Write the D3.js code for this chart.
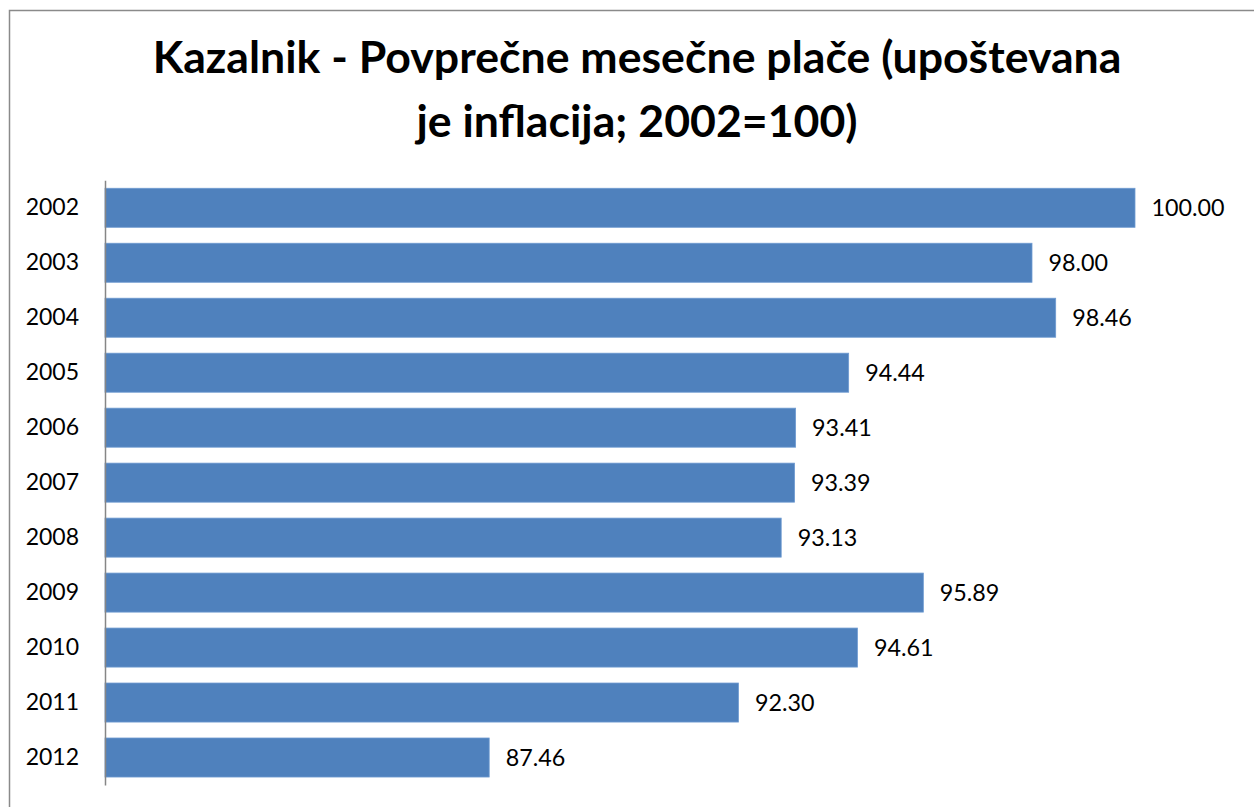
<!DOCTYPE html>
<html>
<head>
<meta charset="utf-8">
<script src="https://cdn.jsdelivr.net/npm/d3@7/dist/d3.min.js"></script>
<style>
  html, body { margin: 0; padding: 0; background: #ffffff; }
  svg { display: block; }
  text { font-family: Lato, "Open Sans", "Liberation Sans", sans-serif; fill: #000; }
</style>
</head>
<body>
<svg id="chart" width="1254" height="807"></svg>
<script>
// Indicator: average monthly wages, inflation-adjusted (2002 = 100)
const years = ["2002", "2003", "2004", "2005", "2006", "2007", "2008", "2009", "2010", "2011", "2012"];
const wageIndex = [100.00, 98.00, 98.46, 94.44, 93.41, 93.39, 93.13, 95.89, 94.61, 92.30, 87.46];
const titleLines = ["Kazalnik - Povprečne mesečne plače (upoštevana", "je inflacija; 2002=100)"];
const axisMin = 80, axisMax = 100;

const svg = d3.select("#chart");
const W = 1254, H = 807;

// chart area frame (extends past the right and bottom edges)
svg.append("rect")
  .attr("x", 9.5).attr("y", 10.5)
  .attr("width", W + 20).attr("height", H + 20)
  .attr("fill", "#ffffff")
  .attr("stroke", "#8a8a8a")
  .attr("stroke-width", 1.5);

// title, two centred lines, sized to the wanted line width
const title = svg.append("g");
const titleBaselines = [73, 137];
const t = title.selectAll("text").data(titleLines).join("text")
  .attr("x", 637)
  .attr("y", (d, i) => titleBaselines[i])
  .attr("text-anchor", "middle")
  .style("font-weight", "700")
  .style("font-size", "40px")
  .text(d => d);
const w0 = t.nodes()[0].getComputedTextLength();
const fs = 40 * 969 / w0;
t.style("font-size", fs.toFixed(2) + "px");

const x = d3.scaleLinear().domain([axisMin, axisMax]).range([105, 1135]);
const y = d3.scaleBand().domain(years).range([180.3, 785])
  .paddingInner(0.29).paddingOuter(0.145);

const data = years.map((yr, i) => ({ year: yr, value: wageIndex[i] }));

// bars
svg.append("g").selectAll("rect").data(data).join("rect")
  .attr("x", x(axisMin))
  .attr("y", d => y(d.year))
  .attr("width", d => x(d.value) - x(axisMin))
  .attr("height", y.bandwidth())
  .attr("fill", "#4f81bd")
  .attr("stroke", "#6f9bd1")
  .attr("stroke-width", 0.8);

// value labels
svg.append("g").selectAll("text").data(data).join("text")
  .attr("x", d => x(d.value) + 16.5)
  .attr("y", d => y(d.year) + y.bandwidth() / 2)
  .attr("dy", "0.36em")
  .style("font-size", "23.3px")
  .text(d => d.value.toFixed(2));

// category axis
const axis = svg.append("g")
  .attr("transform", `translate(${x(axisMin)},0)`)
  .call(d3.axisLeft(y).tickSize(0).tickSizeOuter(0).tickPadding(26));
axis.select(".domain").attr("stroke", "#868686").attr("stroke-width", 1.5);
axis.selectAll(".tick text")
  .style("font-size", "23px")
  .style("font-family", "Lato, 'Open Sans', 'Liberation Sans', sans-serif")
  .attr("fill", "#000");
</script>
</body>
</html>
